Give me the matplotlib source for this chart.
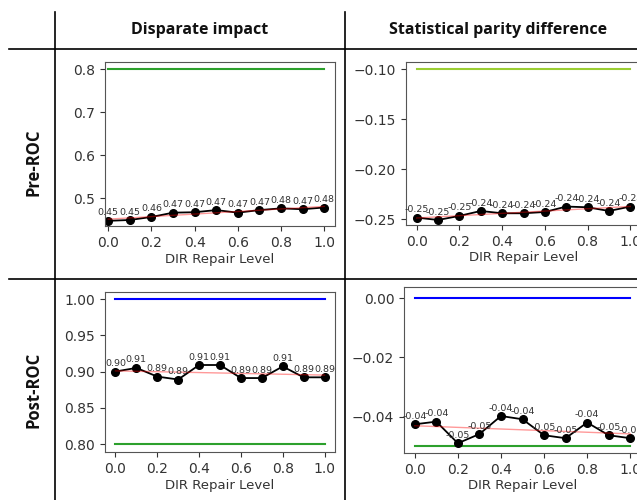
import matplotlib
matplotlib.use("Agg")
import matplotlib.pyplot as plt
import numpy as np
from matplotlib.lines import Line2D

W, H = 637, 500

repair_levels = [0.0, 0.1, 0.2, 0.3, 0.4, 0.5, 0.6, 0.7, 0.8, 0.9, 1.0]

di_pre = [0.447, 0.449, 0.456, 0.466, 0.467, 0.472, 0.466, 0.472, 0.476, 0.474, 0.478]
spd_pre = [-0.2483, -0.2507, -0.2466, -0.2417, -0.2440, -0.2440, -0.2427, -0.2373, -0.2380, -0.2417, -0.2373]
di_post = [0.900, 0.905, 0.893, 0.889, 0.909, 0.909, 0.891, 0.891, 0.907, 0.892, 0.892]
spd_post = [-0.0426, -0.0417, -0.0490, -0.0459, -0.0398, -0.0409, -0.0463, -0.0473, -0.0420, -0.0463, -0.0473]

col_titles = ["Disparate impact", "Statistical parity difference"]
row_titles = ["Pre-ROC", "Post-ROC"]

# thresholds drawn in each cell: (value, colour)
di_pre_lines = [(0.8, "#2ca02c")]
spd_pre_lines = [(-0.10, "#9acd32")]
di_post_lines = [(1.0, "blue"), (0.8, "#2ca02c")]
spd_post_lines = [(0.0, "blue"), (-0.05, "#2ca02c")]

fig = plt.figure(figsize=(W / 100, H / 100), dpi=100)


def px_axes(left, right, top, bottom):
    return fig.add_axes([left / W, 1 - bottom / H, (right - left) / W, (bottom - top) / H])


def cell(ax, y, lines, xlim, ylim, yticks):
    for val, c in lines:
        ax.plot([0, 1], [val, val], color=c, lw=1.5)
    ax.plot(repair_levels, y, color="black", marker="o", ms=5.5, lw=1.3)
    k, b = np.polyfit(repair_levels, y, 1)
    ax.plot(repair_levels, np.polyval([k, b], repair_levels), color="red", alpha=0.4, lw=1)
    for xv, yv in zip(repair_levels, y):
        ax.annotate("%.2f" % yv, (xv, yv), xytext=(0, 2.5), textcoords="offset points",
                    ha="center", va="bottom", fontsize=6.8, color="#333333")
    ax.set_xlim(*xlim)
    ax.set_ylim(*ylim)
    ax.set_yticks(yticks)
    ax.set_xticks([0.0, 0.2, 0.4, 0.6, 0.8, 1.0])
    ax.set_xlabel("DIR Repair Level", fontsize=9.5, color="#333333", labelpad=2)
    ax.tick_params(labelsize=10, colors="#333333")
    for s in ax.spines.values():
        s.set_color("#555555")


ax1 = px_axes(105, 335, 62, 226)
cell(ax1, di_pre, di_pre_lines, (-0.015, 1.05), (0.435, 0.8163), [0.5, 0.6, 0.7, 0.8])

ax2 = px_axes(406, 641, 62, 225)
cell(ax2, spd_pre, spd_pre_lines, (-0.05, 1.05), (-0.2557, -0.093), [-0.25, -0.20, -0.15, -0.10])

ax3 = px_axes(105, 335, 292, 452)
cell(ax3, di_post, di_post_lines, (-0.05, 1.05), (0.789, 1.0097), [0.80, 0.85, 0.90, 0.95, 1.00])

ax4 = px_axes(404, 641, 287, 453)
cell(ax4, spd_post, spd_post_lines, (-0.05, 1.05), (-0.0523, 0.0038), [-0.04, -0.02, 0.00])

# table grid
def fig_line(x0, y0, x1, y1):
    fig.add_artist(Line2D([x0 / W, x1 / W], [1 - y0 / H, 1 - y1 / H],
                          transform=fig.transFigure, color="black", lw=1.2))

fig_line(55, 12, 55, 500)
fig_line(345, 12, 345, 500)
fig_line(9, 49, 637, 49)
fig_line(9, 279, 637, 279)

fig.text(200 / W, 1 - 30 / H, col_titles[0], ha="center", va="center",
         fontsize=11.5, fontweight="bold", family="Open Sans", color="#111111")
fig.text(498 / W, 1 - 30 / H, col_titles[1], ha="center", va="center",
         fontsize=11.5, fontweight="bold", family="Open Sans", color="#111111")
fig.text(33 / W, 1 - 162 / H, row_titles[0], ha="center", va="center", rotation=90,
         fontsize=12, fontweight="bold", family="Open Sans", color="#111111")
fig.text(33 / W, 1 - 390 / H, row_titles[1], ha="center", va="center", rotation=90,
         fontsize=12, fontweight="bold", family="Open Sans", color="#111111")

fig.savefig("out.png", dpi=100)
